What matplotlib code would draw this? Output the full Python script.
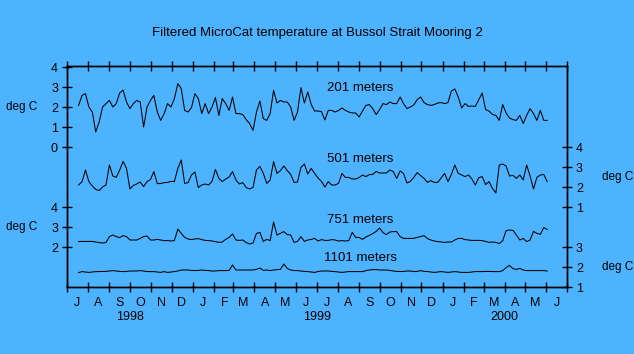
import matplotlib

matplotlib.use("Agg")
import matplotlib.dates as mdates
import matplotlib.pyplot as plt
import pandas as pd
from matplotlib.ticker import FixedLocator, FuncFormatter, NullFormatter

# filtered temperatures (deg C), one value every 5 days from 18 Jul 1998
temp_201m = [
    2.08, 2.58, 2.67, 2.0, 1.75, 0.75, 1.25, 2.0, 2.17, 2.33,
    2.0, 2.17, 2.7, 2.85, 2.25, 1.92, 2.17, 2.33, 2.25, 1.0,
    2.0, 2.33, 2.58, 1.75, 1.33, 1.67, 2.17, 2.0, 2.42, 3.17,
    2.92, 1.83, 1.75, 1.97, 2.67, 2.42, 1.67, 2.17, 1.67, 2.0,
    2.47, 1.58, 2.42, 2.17, 1.83, 2.5, 1.67, 1.67, 1.62, 1.37,
    1.17, 0.83, 1.75, 2.3, 1.42, 1.33, 1.67, 2.83, 2.2, 2.33,
    2.25, 2.25, 2.0, 1.33, 1.75, 2.97, 2.2, 2.75, 2.13, 1.8,
    1.8, 1.77, 1.35, 1.83, 1.83, 1.75, 1.83, 1.95, 1.83, 1.75,
    1.7, 1.7, 1.5, 1.8, 2.08, 2.12, 1.92, 1.62, 1.87, 2.17,
    2.12, 2.25, 2.17, 2.17, 2.5, 2.17, 1.92, 2.0, 2.1, 2.37,
    2.5, 2.22, 2.12, 2.08, 2.12, 2.2, 2.22, 2.17, 2.22, 2.8,
    2.9, 2.5, 1.95, 2.17, 2.03, 2.05, 2.03, 2.37, 2.7, 1.87,
    1.8, 1.63, 1.58, 1.33, 2.12, 1.7, 1.45, 1.37, 1.33, 1.58,
    1.17, 1.58, 1.92, 1.67, 1.33, 1.83, 1.33, 1.33,
]
temp_501m = [
    2.1, 2.27, 2.85, 2.27, 2.05, 1.88, 1.82, 2.0, 2.1, 3.1,
    2.55, 2.48, 2.85, 3.28, 2.93, 1.9, 2.08, 2.15, 2.25, 2.02,
    2.27, 2.37, 2.77, 2.17, 2.17, 2.22, 2.23, 2.28, 2.27, 2.93,
    3.35, 2.18, 2.22, 2.6, 2.75, 1.97, 2.1, 2.15, 2.1, 2.28,
    2.88, 2.43, 2.27, 2.4, 2.5, 2.77, 2.35, 2.15, 2.22, 1.97,
    1.9, 1.98, 2.85, 3.03, 2.68, 2.18, 2.35, 3.27, 2.68, 2.82,
    3.05, 2.82, 2.63, 2.23, 2.25, 2.98, 3.15, 2.65, 2.93, 2.68,
    2.45, 2.28, 2.0, 2.27, 2.1, 2.1, 2.18, 2.68, 2.48, 2.48,
    2.4, 2.4, 2.47, 2.6, 2.52, 2.62, 2.63, 2.78, 2.7, 2.7,
    2.7, 2.85, 2.77, 2.43, 2.8, 2.68, 2.2, 2.28, 2.48, 2.72,
    2.57, 2.43, 2.23, 2.32, 2.23, 2.23, 2.45, 2.68, 2.27, 2.63,
    3.1, 2.68, 2.6, 2.52, 2.6, 2.4, 2.1, 2.47, 2.52, 2.12,
    2.27, 1.93, 1.7, 3.1, 3.15, 3.05, 2.55, 2.58, 2.43, 2.6,
    2.35, 3.1, 2.55, 1.9, 2.48, 2.6, 2.63, 2.27,
]
temp_751m = [
    2.27, 2.28, 2.28, 2.28, 2.28, 2.25, 2.22, 2.2, 2.22, 2.52,
    2.6, 2.52, 2.47, 2.57, 2.52, 2.35, 2.35, 2.35, 2.43, 2.52,
    2.55, 2.35, 2.35, 2.38, 2.35, 2.32, 2.32, 2.3, 2.32, 2.9,
    2.68, 2.48, 2.4, 2.37, 2.4, 2.42, 2.37, 2.33, 2.32, 2.3,
    2.27, 2.23, 2.25, 2.38, 2.48, 2.65, 2.35, 2.33, 2.35, 2.22,
    2.15, 2.2, 2.68, 2.73, 2.28, 2.38, 2.32, 3.25, 2.6, 2.68,
    2.77, 2.62, 2.6, 2.23, 2.28, 2.52, 2.28, 2.35, 2.38, 2.43,
    2.3, 2.37, 2.33, 2.33, 2.37, 2.35, 2.3, 2.32, 2.3, 2.32,
    2.73, 2.48, 2.48, 2.38, 2.5, 2.58, 2.67, 2.78, 2.95, 2.72,
    2.62, 2.75, 2.77, 2.77, 2.52, 2.43, 2.43, 2.43, 2.43, 2.48,
    2.52, 2.57, 2.42, 2.35, 2.3, 2.27, 2.25, 2.23, 2.25, 2.25,
    2.35, 2.43, 2.43, 2.37, 2.35, 2.33, 2.33, 2.33, 2.32, 2.28,
    2.23, 2.25, 2.23, 2.17, 2.32, 2.82, 2.85, 2.83, 2.6, 2.35,
    2.43, 2.27, 2.35, 2.78, 2.68, 2.63, 2.97, 2.88,
]
temp_1101m = [
    1.72, 1.77, 1.75, 1.73, 1.75, 1.77, 1.77, 1.78, 1.78, 1.8,
    1.82, 1.8, 1.78, 1.77, 1.78, 1.8, 1.8, 1.8, 1.82, 1.8,
    1.77, 1.77, 1.77, 1.75, 1.73, 1.77, 1.73, 1.75, 1.77, 1.8,
    1.85, 1.85, 1.85, 1.83, 1.82, 1.83, 1.85, 1.83, 1.82, 1.8,
    1.8, 1.82, 1.82, 1.82, 1.83, 2.1, 1.85, 1.85, 1.85, 1.85,
    1.85, 1.85, 1.88, 1.95, 1.83, 1.85, 1.82, 1.85, 1.87, 1.88,
    2.15, 1.93, 1.85, 1.82, 1.82, 1.8, 1.78, 1.77, 1.75, 1.73,
    1.77, 1.8, 1.8, 1.8, 1.78, 1.77, 1.75, 1.73, 1.75, 1.77,
    1.77, 1.77, 1.77, 1.77, 1.82, 1.85, 1.87, 1.87, 1.85, 1.85,
    1.85, 1.83, 1.8, 1.78, 1.77, 1.78, 1.8, 1.8, 1.77, 1.78,
    1.82, 1.78, 1.77, 1.75, 1.73, 1.75, 1.77, 1.75, 1.73, 1.75,
    1.77, 1.75, 1.73, 1.73, 1.73, 1.75, 1.77, 1.77, 1.77, 1.78,
    1.78, 1.77, 1.77, 1.77, 1.82, 1.97, 2.08, 1.92, 1.88, 1.93,
    1.85, 1.82, 1.82, 1.82, 1.82, 1.82, 1.82, 1.8,
]

sample_start = "1998-07-18"
sample_step = "5D"

depth_labels = ["201 meters", "501 meters", "751 meters", "1101 meters"]
# vertical shift of each trace in the stacked panel (deg C)
depth_offsets = [7, 3, 0, -1]

left_tick_values = [[0, 1, 2, 3, 4], [2, 3, 4]]
left_tick_series = [0, 2]
right_tick_values = [[1, 2, 3, 4], [1, 2, 3]]
right_tick_series = [1, 3]

year_labels = ["1998", "1999", "2000"]
year_label_dates = ["1998-10-01", "1999-07-01", "2000-04-01"]

title = "Filtered MicroCat temperature at Bussol Strait Mooring 2"
units = "deg C"

BG = "#4db3ff"
FONT = "Liberation Sans"

dates = pd.date_range(sample_start, periods=len(temp_201m), freq=sample_step)
series = [temp_201m, temp_501m, temp_751m, temp_1101m]

fig = plt.figure(figsize=(6.34, 3.54), dpi=100, facecolor=BG)
ax = fig.add_axes([67 / 634, 1 - 287 / 354, 500 / 634, 221 / 354])
ax.set_facecolor(BG)

for values, offset in zip(series, depth_offsets):
    ax.plot(dates, [v + offset for v in values], color="black", lw=0.75)

ax.set_xlim(pd.Timestamp("1998-07-01"), pd.Timestamp("2000-07-01"))
ax.set_ylim(0, 11.05)

# x axis: ticks at month boundaries, month initials centred in each month
ax.xaxis.set_major_locator(mdates.MonthLocator())
ax.xaxis.set_major_formatter(NullFormatter())
ax.xaxis.set_minor_locator(mdates.MonthLocator(bymonthday=16))
ax.xaxis.set_minor_formatter(
    FuncFormatter(lambda x, pos: mdates.num2date(x).strftime("%b")[0])
)
ax.tick_params(axis="x", which="major", direction="inout", length=7, width=1, top=True)
ax.tick_params(axis="x", which="minor", length=0, pad=7, labelsize=9)

for label, day in zip(year_labels, year_label_dates):
    ax.text(pd.Timestamp(day), -30 / 221, label, transform=ax.get_xaxis_transform(),
            ha="center", va="center", fontsize=9, family=FONT)

# left axis carries the 201 m and 751 m scales
left_pos, left_lab = [], []
for vals, idx in zip(left_tick_values, left_tick_series):
    left_pos += [v + depth_offsets[idx] for v in vals]
    left_lab += [str(v) for v in vals]
ax.yaxis.set_major_locator(FixedLocator(left_pos))
ax.set_yticklabels(left_lab)
ax.tick_params(axis="y", direction="inout", length=7, width=1, pad=3, labelsize=9)

# right axis carries the 501 m and 1101 m scales
ax2 = ax.twinx()
ax2.set_ylim(ax.get_ylim())
right_pos, right_lab = [], []
for vals, idx in zip(right_tick_values, right_tick_series):
    right_pos += [v + depth_offsets[idx] for v in vals]
    right_lab += [str(v) for v in vals]
ax2.yaxis.set_major_locator(FixedLocator(right_pos))
ax2.set_yticklabels(right_lab)
ax2.tick_params(axis="y", direction="inout", length=7, width=1, pad=3, labelsize=9)

for a in (ax, ax2):
    for spine in a.spines.values():
        spine.set_linewidth(1)
    for lab in a.get_xticklabels(which="both") + a.get_yticklabels():
        lab.set_family(FONT)

label_y = [9.95, 6.4, 3.35, 1.45]
for text, y in zip(depth_labels, label_y):
    ax.text(0.586, y, text, transform=ax.get_yaxis_transform(),
            ha="center", va="center", fontsize=9.5, family=FONT)

fig.text(317 / 634, 1 - 33 / 354, title, ha="center", va="center", fontsize=9.5, family=FONT)
for x, y in [(6, 107), (6, 227), (602, 177), (602, 267)]:
    fig.text(x / 634, 1 - y / 354, units, ha="left", va="center", fontsize=8.5, family=FONT)

fig.savefig("out.png", dpi=100, facecolor=BG)
plt.close(fig)
